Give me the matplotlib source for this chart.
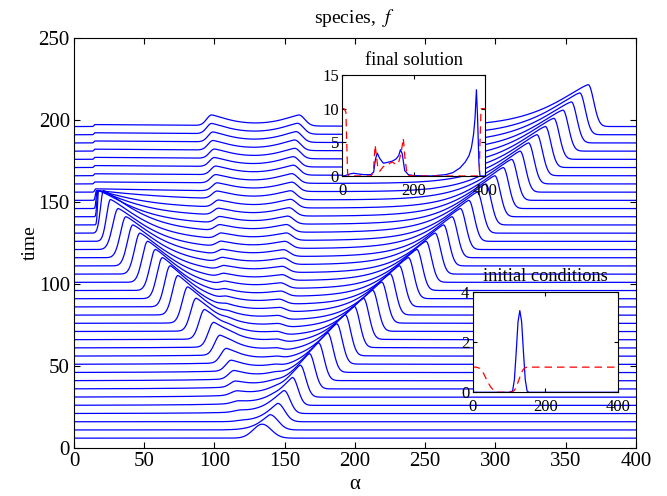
import numpy as np
import matplotlib.pyplot as plt

# main waterfall: one curve per output time
baseline = [6, 11, 16, 21, 26, 31, 36, 41, 46, 51, 56, 61, 66, 71, 76, 81, 86, 91, 96, 101,
            106, 111, 116, 121, 126, 131, 136, 141, 146, 151, 156, 161, 166, 171, 176, 181, 186, 191, 196]

# right-moving front: peak position, height, tail width (left side), drop width (right side)
right_pos = [134, 139.5, 145, 149.5, 155.5, 161, 167.5, 174, 180.5, 187, 193, 199.5, 206, 212.5, 219, 225,
             231.5, 238, 244, 250.5, 257, 263, 269, 275, 281, 287, 293, 299.5, 305.5, 311.5, 317.5, 323.5,
             329.5, 335.5, 341.5, 348, 354, 360, 366]
right_amp = [8.5, 9.3, 11.2, 14, 17, 19.5, 21.5, 23, 24, 24.5, 25, 25, 25, 25, 25, 25, 25, 25, 25, 25,
             25, 25, 25, 25, 25, 25, 25, 25, 25, 25, 25, 25, 25, 25, 25, 25, 25, 25.5, 25.5]
right_tail = [9, 10, 11, 12, 13, 14, 15, 16, 17, 18, 19, 20, 20, 21, 21, 22, 22, 23, 23, 24,
              24, 25, 25, 26, 26, 27, 27, 28, 28, 29, 29, 30, 31, 32, 33, 34, 35, 35, 36]
right_long = [0, 0, 0, 0.1, 0.12, 0.14, 0.15, 0.16, 0.17, 0.18, 0.18, 0.2, 0.2, 0.2, 0.2, 0.2, 0.2, 0.2, 0.2, 0.2,
              0.2, 0.2, 0.2, 0.2, 0.2, 0.2, 0.2, 0.18, 0.16, 0.14, 0.12, 0.1, 0.08, 0.07, 0.06, 0.05, 0.05, 0.05, 0.05]
right_drop = [9, 8, 7, 6, 5.5, 5.5, 5.5, 5.5, 5.5, 5.5, 5.5, 5.5, 5.5, 5.5, 5.5, 5.5, 5.5, 5.5, 5.5, 5.5,
              5.5, 5.5, 5.5, 5.5, 5.5, 5.5, 5.5, 5.5, 5.5, 5.5, 5.5, 5.5, 5.5, 5.5, 5.5, 5.5, 5.5, 5.5, 5.5]

# left-moving front (stops at the wall near alpha = 15)
left_pos = [120, 125, 120, 118, 117, 116, 115, 114, 112, 108.5, 104, 99.5, 93, 87, 81, 74, 68.5, 63,
            58, 52.5, 47, 42, 37, 31.5, 26, 21, 17.5, 17, 16.5, 16, 15.5, 15, 15, 15, 15, 15, 15, 15, 15]
left_amp = [0, 0, 0.5, 1, 1.5, 2.5, 3.5, 5, 6.4, 8.8, 12, 15, 18, 20, 22, 24, 25, 25, 25, 25,
            25, 25, 25, 25, 25.5, 26, 21, 16, 11, 6, 2, 1.2, 1.2, 1.2, 1.2, 1.2, 1.2, 1.2, 1.2]
left_rise = [6, 6, 6, 6, 6, 6, 5.5, 5.5, 5.5, 5.5, 5.5, 5.5, 5.5, 5.5, 5.5, 5.5, 5.5, 5.5, 5.5, 5.5,
             5.5, 5.5, 5.5, 5.5, 4, 3, 1, 1, 1, 1, 1, 1, 1, 1, 1, 1, 1, 1, 1]
left_tail = [8, 8, 8, 9, 10, 11, 12, 13, 14, 15, 16, 17, 18, 19, 20, 21, 22, 23, 24, 25,
             26, 27, 28, 29, 30, 31, 32, 33, 34, 60, 90, 120, 120, 120, 120, 120, 120, 120, 120]
left_long = [0, 0, 0, 0, 0, 0, 0.05, 0.1, 0.12, 0.15, 0.17, 0.2, 0.2, 0.2, 0.2, 0.2, 0.2, 0.2, 0.2, 0.2,
             0.2, 0.2, 0.2, 0.2, 0.2, 0.2, 0.25, 0.3, 0.4, 0.5, 0, 0, 0, 0, 0, 0, 0, 0, 0]

# slow bumps left behind in the middle
bump_a_pos = [112, 112, 112, 112, 112, 112, 112, 112, 112, 112, 112, 111, 111, 110, 110, 109, 109, 108,
              108, 107, 107, 106, 106, 105, 105, 104, 104, 103, 103, 102, 102, 101, 101, 100, 100, 99, 99, 98, 98]
bump_a_amp = [0, 0, 0, 0, 0, 0, 0, 0, 0, 0, 0.5, 0.8, 1, 1.2, 1.4, 1.6, 1.8, 2, 2.2, 2.4,
              2.6, 2.8, 3, 3.2, 3.4, 3.6, 3.8, 4, 4.2, 4.5, 4.8, 5, 5.2, 5.4, 5.6, 5.8, 6, 6.2, 6.4]
bump_b_pos = [140, 140, 140, 140, 140, 141, 141, 142, 142, 143, 143, 144, 144, 145, 145, 146, 146, 147,
              147, 148, 148, 149, 149, 150, 151, 151, 152, 153, 154, 154, 155, 155, 156, 156, 157, 157, 158, 159, 160]
bump_b_amp = [0, 0, 0, 0.5, 0.8, 1, 1.2, 1.4, 1.5, 1.6, 1.8, 2, 2.1, 2.2, 2.4, 2.6, 2.8, 3, 3.2, 3.4,
              3.6, 3.8, 4, 4.2, 4.4, 4.6, 4.8, 5, 5.2, 5.4, 5.6, 5.8, 6, 6.2, 6.3, 6.4, 6.5, 6.6, 6.7]

# insets: points
final_x = [0, 8, 15, 25, 32, 45, 60, 80, 88, 93, 98, 105, 115, 125, 140, 150, 158, 163, 168, 175,
           185, 200, 250, 290, 310, 330, 345, 355, 362, 368, 372, 376, 379, 383, 386, 400]
final_f = [0, 0.05, 0.2, 0.35, 0.4, 0.3, 0.2, 0.2, 0.6, 2.5, 3.4, 2.6, 1.9, 2.0, 2.2, 2.5, 3.0, 3.9, 3.3, 0.8,
           0.2, 0.05, 0, 0.2, 0.5, 1.2, 2.1, 3.0, 4.2, 6.2, 8.5, 12.8, 9, 2, 0, 0]
final_gx = [0, 5, 10, 15, 20, 40, 60, 80, 87, 92, 99, 105, 115, 125, 140, 150, 158, 165, 171, 176, 182, 200, 250,
            300, 330, 350, 360, 365, 370, 375, 380, 384, 386, 389, 395, 400]
final_g = [10, 10, 9.5, 0.2, 0, 0, 0, 0, 0.5, 4.6, 1.5, 0.7, 1.4, 1.6, 2.1, 1.7, 2.0, 3.5, 5.6, 2.5, 0.1, 0, 0,
           0, 0, 0, 0, 0, 0, 0, 0, 0.2, 5, 10, 10, 10]

init_x = [0, 10, 20, 30, 40, 50, 60, 70, 80, 90, 100, 110, 115, 120, 125, 130, 135, 140, 145, 150,
          155, 160, 170, 180, 200, 250, 300, 350, 400]
init_f = [0, 0, 0, 0, 0, 0, 0, 0, 0, 0, 0, 0.05, 0.5, 1.6, 2.8, 3.25, 2.8, 1.6, 0.5, 0.05,
          0, 0, 0, 0, 0, 0, 0, 0, 0]
init_g = [1, 1, 0.95, 0.75, 0.45, 0.2, 0.05, 0, 0, 0, 0, 0.02, 0.08, 0.2, 0.4, 0.6, 0.8, 0.92, 0.98, 1,
          1, 1, 1, 1, 1, 1, 1, 1, 1]

plt.rcParams['font.family'] = ['Liberation Serif', 'DejaVu Serif']
plt.rcParams['mathtext.fontset'] = 'stix'
plt.rcParams['xtick.direction'] = 'in'
plt.rcParams['ytick.direction'] = 'in'
plt.rcParams['xtick.top'] = True
plt.rcParams['ytick.right'] = True


def side(d, w, p, long_frac):
    # decay away from a peak: rounded core plus a slow exponential remnant
    return (1 - long_frac) * np.exp(-(d / w) ** p) + long_frac * np.exp(-d / 45.0)


def pulse(x, pos, amp, wl, wr, pl, pr, long_l=0.0, long_r=0.0):
    d = x - pos
    out = np.where(d < 0, side(np.abs(d), wl, pl, long_l), side(np.abs(d), wr, pr, long_r))
    return amp * out


alpha = np.linspace(0, 400, 1601)

fig = plt.figure(figsize=(6.67, 4.96), dpi=100)
ax = fig.add_axes([0.1109, 0.0968, 0.8426, 0.8266])

for i in range(len(baseline)):
    y = np.full_like(alpha, baseline[i], dtype=float)
    y += pulse(alpha, right_pos[i], right_amp[i], right_tail[i], right_drop[i],
               1.3 if i else 2, 2, long_l=right_long[i])
    y += pulse(alpha, left_pos[i], left_amp[i], left_rise[i], left_tail[i],
               2, 1.3, long_r=left_long[i])
    y += pulse(alpha, bump_a_pos[i], bump_a_amp[i], 5, 18, 2, 1.3)
    y += pulse(alpha, bump_b_pos[i], bump_b_amp[i], 18, 6, 1.3, 2)
    ax.plot(alpha, y, color='blue', lw=0.9)

ax.set_xlim(0, 400)
ax.set_ylim(0, 250)
ax.set_xticks(np.arange(0, 401, 50))
ax.set_yticks(np.arange(0, 251, 50))
ax.tick_params(labelsize=15, length=4, width=0.8, pad=3)
ax.set_xlabel('α', fontsize=15, labelpad=3)
ax.set_ylabel('time', fontsize=14, labelpad=0)
ax.set_title('species,  $f$', fontsize=14, pad=11)

# inset: final solution
ax1 = fig.add_axes([0.5132, 0.6452, 0.2139, 0.2036])
ax1.plot(final_x, final_f, color='blue', lw=0.9)
ax1.plot(final_gx, final_g, color='red', lw=0.9, ls=(0, (6, 4)))
ax1.set_xlim(0, 400)
ax1.set_ylim(0, 15)
ax1.set_xticks([0, 200, 400])
ax1.set_yticks([0, 5, 10, 15])
ax1.tick_params(labelsize=12, length=3)
ax1.tick_params(axis='x', pad=5)
ax1.tick_params(axis='y', pad=2.5)
ax1.set_title('final solution', fontsize=13.2, pad=7)

# inset: initial conditions
ax2 = fig.add_axes([0.7087, 0.2091, 0.2174, 0.2028])
ax2.plot(init_x, init_f, color='blue', lw=0.9)
ax2.plot(init_x, init_g, color='red', lw=0.9, ls=(0, (6, 4)))
ax2.set_xlim(0, 400)
ax2.set_ylim(0, 4)
ax2.set_xticks([0, 200, 400])
ax2.set_yticks([0, 2, 4])
ax2.tick_params(labelsize=12, length=3)
ax2.tick_params(axis='x', pad=5)
ax2.tick_params(axis='y', pad=2.5)
ax2.set_title('initial conditions', fontsize=13.2, pad=8)

fig.savefig('out.png', dpi=100)
